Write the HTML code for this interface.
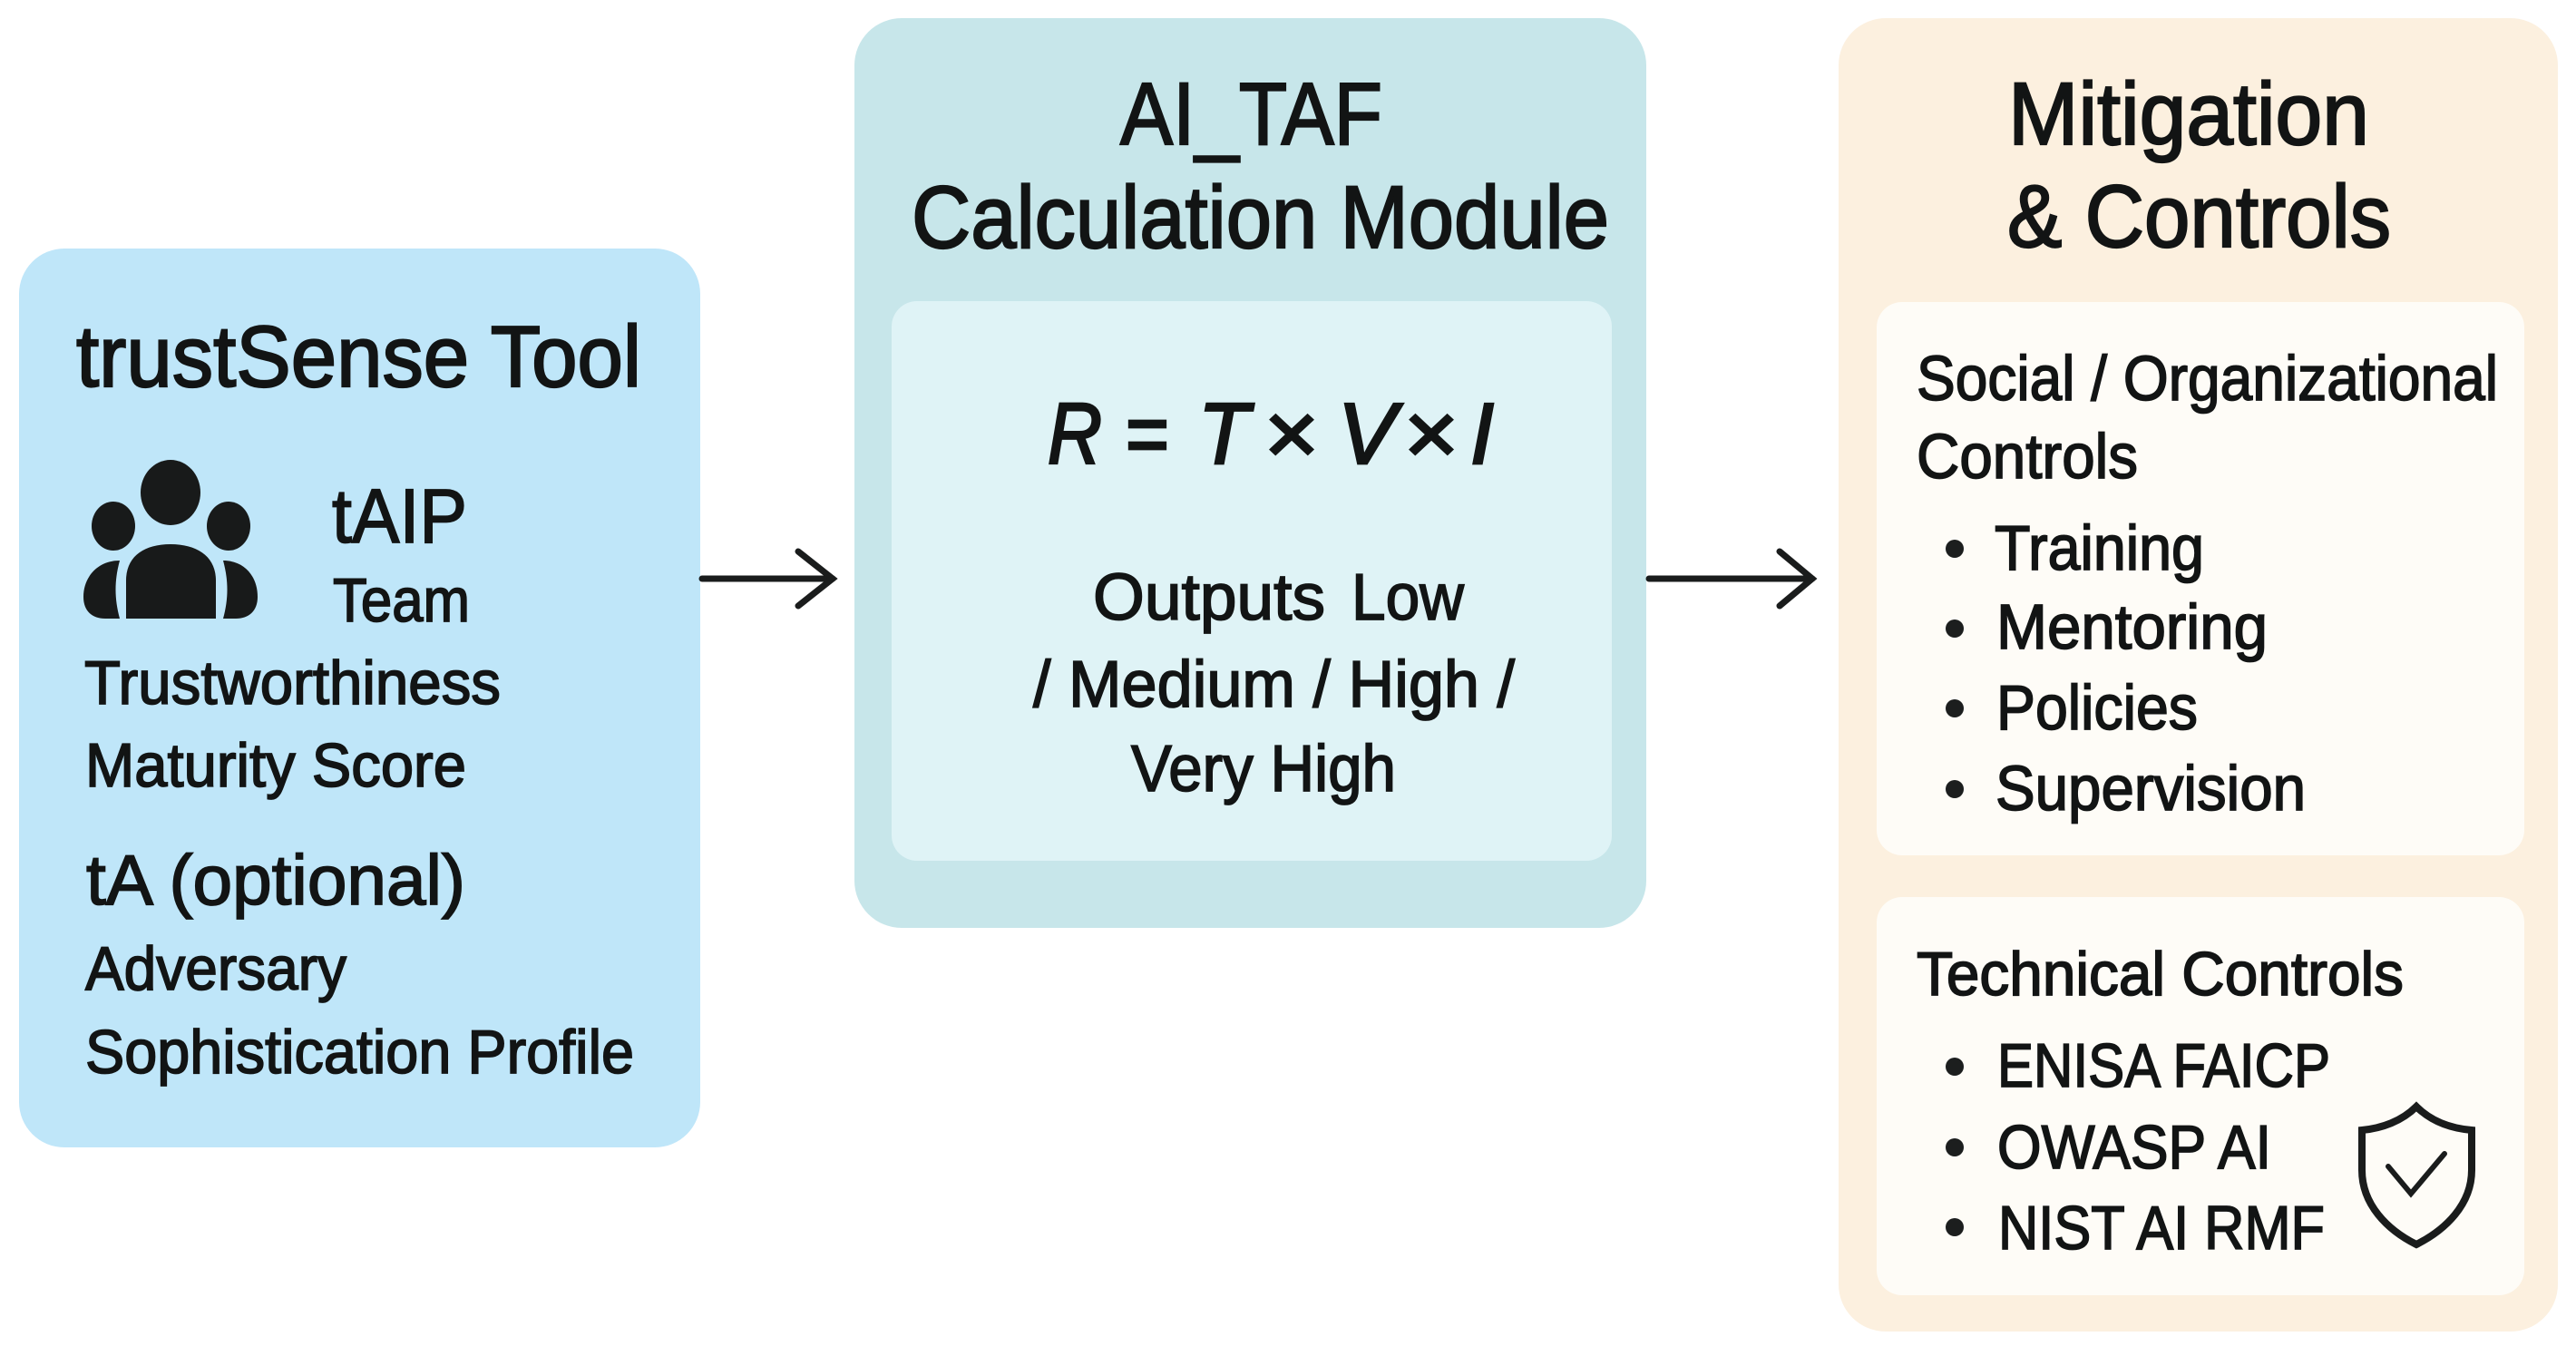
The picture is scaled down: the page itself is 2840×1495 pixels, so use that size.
<!DOCTYPE html>
<html lang="en"><head><meta charset="utf-8"><title>trustSense, AI_TAF and Mitigation diagram</title>
<style>
html,body{margin:0;padding:0;background:#fff;width:2840px;height:1495px;overflow:hidden}
svg{display:block}
text{font-family:"Liberation Sans",sans-serif;fill:#121414;stroke:#121414;stroke-width:1.7}
.h{stroke-width:2.2}
.f text{stroke-width:2.8}
</style></head><body>
<svg xmlns="http://www.w3.org/2000/svg" width="2840" height="1495" viewBox="0 0 2840 1495">
<rect width="2840" height="1495" fill="#fff"/>
<!-- panels -->
<rect x="21" y="274" width="751" height="991" rx="50" fill="#bfe6f9"/>
<rect x="942" y="20" width="873" height="1003" rx="52" fill="#c7e6ea"/>
<rect x="983" y="332" width="794" height="617" rx="28" fill="#dff3f6"/>
<rect x="2027" y="20" width="793" height="1448" rx="52" fill="#fcf0df"/>
<rect x="2069" y="333" width="714" height="610" rx="28" fill="#fefcf7"/>
<rect x="2069" y="989" width="714" height="439" rx="28" fill="#fefcf7"/>
<!-- arrows -->
<g fill="none" stroke="#1a1c1c" stroke-width="7" stroke-linecap="round" stroke-linejoin="miter">
<path d="M774 638H918"/><path d="M880 608L918 638L880 668"/>
<path d="M1818 638H1998"/><path d="M1962 608L1998 638L1962 668"/>
</g>
<!-- panel 1 -->
<text class="h" x="84" y="426" font-size="96" textLength="623" lengthAdjust="spacingAndGlyphs">trustSense Tool</text>
<g fill="#181a1a">
<ellipse cx="188" cy="543" rx="33" ry="36"/>
<ellipse cx="125" cy="580" rx="24" ry="27"/>
<ellipse cx="252" cy="580" rx="24" ry="27"/>
<path d="M139 682V640C139 614 158 600 188 600C218 600 238 614 238 640V682Z"/>
<path d="M132 618C108 618 92 636 92 658C92 674 102 682 116 682H132C126 660 126 640 132 618Z"/>
<path d="M246 618C270 618 284 636 284 658C284 674 274 682 260 682H246C252 660 252 640 246 618Z"/>
</g>
<text x="366" y="598" font-size="84" textLength="149" lengthAdjust="spacingAndGlyphs">tAIP</text>
<text x="367" y="685" font-size="68" textLength="151" lengthAdjust="spacingAndGlyphs">Team</text>
<text x="93" y="776" font-size="68" textLength="459" lengthAdjust="spacingAndGlyphs">Trustworthiness</text>
<text x="94" y="867" font-size="68" textLength="420" lengthAdjust="spacingAndGlyphs">Maturity Score</text>
<text x="95" y="997" font-size="78" textLength="418" lengthAdjust="spacingAndGlyphs">tA (optional)</text>
<text x="94" y="1091" font-size="68" textLength="288" lengthAdjust="spacingAndGlyphs">Adversary</text>
<text x="94" y="1183" font-size="68" textLength="605" lengthAdjust="spacingAndGlyphs">Sophistication Profile</text>
<!-- panel 2 -->
<text class="h" x="1235" y="159" font-size="97" textLength="289" lengthAdjust="spacingAndGlyphs">AI_TAF</text>
<text class="h" x="1005" y="273" font-size="97" textLength="769" lengthAdjust="spacingAndGlyphs">Calculation Module</text>
<g class="f" font-size="96" font-style="italic">
<text x="1155" y="511" textLength="60" lengthAdjust="spacingAndGlyphs">R</text>
<text x="1241" y="511" font-style="normal" textLength="48" lengthAdjust="spacingAndGlyphs">=</text>
<text x="1321" y="511" textLength="56" lengthAdjust="spacingAndGlyphs">T</text>
<text x="1394" y="511" font-style="normal" textLength="60" lengthAdjust="spacingAndGlyphs">×</text>
<text x="1475" y="511" textLength="64" lengthAdjust="spacingAndGlyphs">V</text>
<text x="1548" y="511" font-style="normal" textLength="60" lengthAdjust="spacingAndGlyphs">×</text>
<text x="1621" y="511" textLength="26" lengthAdjust="spacingAndGlyphs">I</text>
</g>
<text x="1205" y="683" font-size="72" textLength="256" lengthAdjust="spacingAndGlyphs">Outputs</text>
<text x="1490" y="683" font-size="72" textLength="124" lengthAdjust="spacingAndGlyphs">Low</text>
<text x="1139" y="779" font-size="72" textLength="531" lengthAdjust="spacingAndGlyphs">/ Medium / High /</text>
<text x="1247" y="872" font-size="72" textLength="292" lengthAdjust="spacingAndGlyphs">Very High</text>
<!-- panel 3 -->
<text class="h" x="2214" y="159" font-size="97" textLength="398" lengthAdjust="spacingAndGlyphs">Mitigation</text>
<text class="h" x="2213" y="272" font-size="97" textLength="423" lengthAdjust="spacingAndGlyphs">&amp; Controls</text>
<text x="2113" y="441" font-size="70" textLength="641" lengthAdjust="spacingAndGlyphs">Social / Organizational</text>
<text x="2113" y="527" font-size="70" textLength="244" lengthAdjust="spacingAndGlyphs">Controls</text>
<text x="2199" y="628" font-size="70" textLength="231" lengthAdjust="spacingAndGlyphs">Training</text>
<text x="2201" y="715" font-size="70" textLength="299" lengthAdjust="spacingAndGlyphs">Mentoring</text>
<text x="2201" y="804" font-size="70" textLength="222" lengthAdjust="spacingAndGlyphs">Policies</text>
<text x="2200" y="893" font-size="70" textLength="342" lengthAdjust="spacingAndGlyphs">Supervision</text>
<g fill="#1c1e1e">
<circle cx="2155" cy="605" r="10"/><circle cx="2155" cy="693" r="10"/><circle cx="2155" cy="781" r="10"/><circle cx="2155" cy="870" r="10"/>
<circle cx="2155" cy="1176" r="10"/><circle cx="2155" cy="1265" r="10"/><circle cx="2155" cy="1353" r="10"/>
</g>
<text x="2113" y="1097" font-size="68" textLength="537" lengthAdjust="spacingAndGlyphs">Technical Controls</text>
<text x="2202" y="1198" font-size="68" textLength="367" lengthAdjust="spacingAndGlyphs">ENISA FAICP</text>
<text x="2202" y="1288" font-size="68" textLength="302" lengthAdjust="spacingAndGlyphs">OWASP AI</text>
<text x="2203" y="1377" font-size="68" textLength="360" lengthAdjust="spacingAndGlyphs">NIST AI RMF</text>
<g fill="none" stroke="#1a1c1c" stroke-width="8" stroke-linejoin="miter" stroke-linecap="round">
<path d="M2664 1220C2648 1236 2626 1244 2604 1246V1290C2604 1328 2632 1356 2664 1372C2696 1356 2725 1328 2725 1290V1246C2702 1244 2680 1236 2664 1220Z"/>
<path d="M2633 1286L2658 1316L2695 1272" stroke-width="6"/>
</g>
</svg>
</body></html>
